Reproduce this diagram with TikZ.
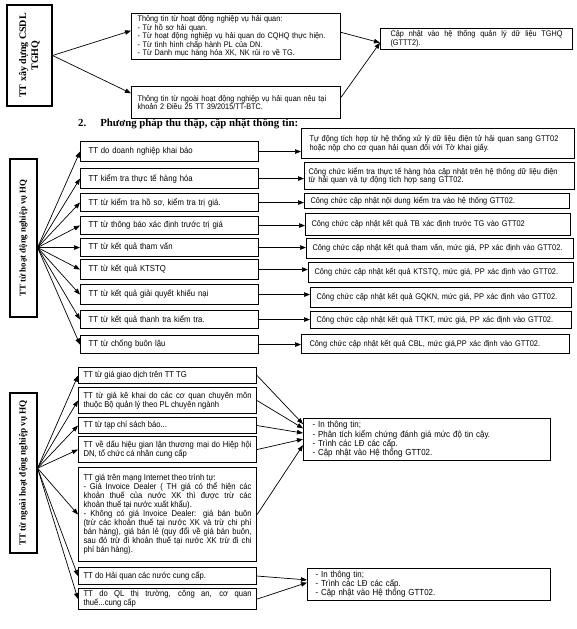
\documentclass[tikz,border=0pt]{standalone}
\usepackage{fontspec}
\setmainfont{Liberation Serif}
\setsansfont{Liberation Sans}[FakeStretch=0.9]
\usetikzlibrary{arrows.meta,calc}
\tikzset{
    every node/.style={font=\sffamily\fontsize{8.2}{8.8}\selectfont},
    infobox/.style={draw,line width=1.1pt,anchor=north west,inner xsep=6pt,inner ysep=2pt,align=left},
    jbox/.style={infobox,align=justify},
    topbox/.style={infobox,inner xsep=6pt,text width=197pt,font=\sffamily\fontsize{8.1}{8.6}\selectfont},
    midbox/.style={infobox,inner xsep=8pt,text width=162pt,font=\sffamily\fontsize{8.6}{9}\selectfont},
    extbox/.style={jbox,inner xsep=5pt,text width=168pt,font=\sffamily\fontsize{8.5}{9}\selectfont},
    stepbox/.style={infobox,inner ysep=3pt,font=\sffamily\fontsize{8.8}{8.9}\selectfont},
    sidebox/.style={draw,line width=1.1pt,rotate=90,inner sep=1pt,align=center,font=\rmfamily\bfseries\fontsize{8.8}{10}\selectfont},
    heading/.style={anchor=base west,inner sep=0pt,font=\rmfamily\bfseries\fontsize{10.8}{13}\selectfont},
    link/.style={draw,line width=0.7pt,-{Triangle[length=6pt,width=4.5pt]}}
}
\begin{document}
\begin{tikzpicture}[x=1pt,y=-1pt]
\useasboundingbox (0,0) rectangle (576,629);
% 1. xay dung CSDL
\node[sidebox,minimum width=101pt,minimum height=45pt,font=\rmfamily\bfseries\fontsize{10}{12}\selectfont] (src) at (29.5,55.5) {TT xây dựng CSDL\\TGHQ};
\node[topbox] (t1) at (131,13) {Thông tin từ hoạt động nghiệp vụ hải quan:\\- Từ hồ sơ hải quan.\\- Từ hoạt động nghiệp vụ hải quan do CQHQ thực hiện.\\- Từ tình hình chấp hành PL của DN.\\- Từ Danh mục hàng hóa XK, NK rủi ro về TG.\par\vspace{15pt}};
\node[topbox,minimum height=32pt] (t2) at (131,86) {Thông tin từ ngoài hoạt động nghiệp vụ hải quan nêu tại\\khoản 2 Điều 25 TT 39/2015/TT-BTC.\par\vspace{3pt}};
\node[topbox,align=justify,inner xsep=10pt,text width=172pt] (t3) at (380,28) {Cập nhật vào hệ thống quản lý dữ liệu TGHQ\linebreak (GTTT2).\par\vspace{27pt}};
\coordinate (hubA) at (src.south);
\draw[link] (hubA) -- ($(t1.north west)!0.375!(t1.south west)$);
\draw[link] (hubA) -- ($(t2.north west)!0.22!(t2.south west)$);
\draw[link] ($(t1.north east)!0.41!(t1.south east)$) -- ($(t3.north west)!0.68!(t3.south west)$);
\draw[link] ($(t2.north east)!0.34!(t2.south east)$) -- ($(t3.north west)!0.68!(t3.south west)$);

% 2. phuong phap thu thap
\node[heading] (title) at (78,126) {2.\hspace{14pt}Phương pháp thu thập, cập nhật thông tin:};

% TT tu hoat dong nghiep vu HQ
\node[sidebox,minimum width=158pt,minimum height=27pt] (s2) at (23.5,238) {TT từ hoạt động nghiệp vụ HQ};
\node[midbox,minimum height=20pt] (m1) at (80,141) {TT do doanh nghiệp khai báo};
\node[midbox,minimum height=20pt] (m2) at (80,168) {TT kiểm tra thực tế hàng hóa};
\node[midbox,minimum height=18pt] (m3) at (80,193) {TT từ kiểm tra hồ sơ, kiểm tra trị giá.};
\node[midbox,minimum height=18pt] (m4) at (80,216) {TT từ thông báo xác định trước trị giá};
\node[midbox,minimum height=18pt] (m5) at (80,238) {TT từ kết quả tham vấn};
\node[midbox,minimum height=20pt] (m6) at (80,259) {TT từ kết quả KTSTQ};
\node[midbox,minimum height=20pt] (m7) at (80,284) {TT từ kết quả giải quyết khiếu nại};
\node[midbox,minimum height=18pt] (m8) at (80,310) {TT từ kết quả thanh tra kiểm tra.};
\node[midbox,minimum height=18pt] (m9) at (80,335) {TT từ chống buôn lậu};

\node[infobox,inner xsep=8pt,text width=257pt,minimum height=30pt] (r1) at (301,128) {Tự động tích hợp từ hệ thống xử lý dữ liệu điện tử hải quan sang GTT02\\hoặc nộp cho cơ quan hải quan đối với Tờ khai giấy.};
\node[infobox,inner xsep=4pt,text width=262pt,minimum height=27pt] (r2) at (304,162) {Công chức kiểm tra thực tế hàng hóa cập nhật trên hệ thống dữ liệu điện\\từ hải quan và tự động tích hợp sang GTT02.};
\node[infobox,text width=253pt,minimum height=15pt] (r3) at (304,193) {Công chức cập nhật nội dung kiểm tra vào hệ thống GTT02.};
\node[infobox,text width=253pt,minimum height=22pt] (r4) at (305,213) {Công chức cập nhật kết quả TB xác định trước TG vào GTT02};
\node[infobox,text width=255pt,minimum height=20pt] (r5) at (306,238) {Công chức cập nhật kết quả tham vấn, mức giá, PP xác định vào GTT02.};
\node[infobox,text width=253pt,minimum height=20pt] (r6) at (308,262) {Công chức cập nhật kết quả KTSTQ, mức giá, PP xác định vào GTT02.};
\node[infobox,text width=249pt,minimum height=20pt] (r7) at (310,287) {Công chức cập nhật kết quả GQKN, mức giá, PP xác định vào GTT02.};
\node[infobox,text width=249pt,minimum height=17pt] (r8) at (310,311) {Công chức cập nhật kết quả TTKT, mức giá, PP xác định vào GTT02.};
\node[infobox,inner xsep=8pt,text width=252pt,minimum height=19pt] (r9) at (301,334) {Công chức cập nhật kết quả CBL, mức giá,PP xác định vào GTT02.};

\coordinate (hubB) at ($(s2.south east)!0.56!(s2.south west)$);
\foreach \i in {1,...,9}
    \draw[link] (hubB) -- (m\i.west);
\foreach \i in {1,...,9}
    \draw[link] (m\i.east) -- (m\i.east -| r\i.west);

% TT tu ngoai hoat dong nghiep vu HQ
\node[sidebox,minimum width=160pt,minimum height=27pt,font=\rmfamily\bfseries\fontsize{9.2}{10}\selectfont] (s3) at (23.5,473) {TT từ ngoài hoạt động nghiệp vụ HQ};
\node[extbox,minimum height=16pt] (n1) at (78,367) {TT từ giá giao dịch trên TT TG};
\node[extbox,minimum height=26pt] (n2) at (78,387) {TT từ giá kê khai do các cơ quan chuyên môn\linebreak thuộc Bộ quản lý theo PL chuyên ngành};
\node[extbox,minimum height=16pt] (n3) at (78,417) {TT từ tạp chí sách báo...};
\node[extbox,minimum height=26pt] (n4) at (78,436) {TT về dấu hiệu gian lận thương mại do Hiệp hội\linebreak DN, tổ chức cá nhân cung cấp};
\node[extbox,minimum height=94pt] (n5) at (78,467) {TT giá trên mạng Internet theo trình tự:\\- Giá Invoice Dealer ( TH giá có thể hiện các\linebreak khoản thuế của nước XK thì được trừ các\linebreak khoản thuế tại nước xuất khẩu).\\- Không có giá Invoice Dealer: giá bán buôn\linebreak (trừ các khoản thuế tại nước XK và trừ chi phí\linebreak bán hàng), giá bán lẻ (quy đổi về giá bán buôn,\linebreak sau đó trừ đi khoản thuế tại nước XK trừ đi chi\linebreak phí bán hàng).};
\node[extbox,minimum height=17pt] (n6) at (78,567) {TT do Hải quan các nước cung cấp.};
\node[extbox] (n7) at (78,588) {TT do QL thị trường, công an, cơ quan\linebreak thuế...cung cấp\par\vspace{6pt}};

\node[stepbox,inner xsep=9pt,text width=229pt] (pa) at (303,418) {- In thông tin;\\- Phân tích kiểm chứng đánh giá mức độ tin cậy.\\- Trình các LĐ các cấp.\\- Cập nhật vào Hệ thống GTT02.\par\vspace{9pt}};
\node[stepbox,inner xsep=8pt,text width=227pt] (pb) at (307,568) {- In thông tin;\\- Trình các LĐ các cấp.\\- Cập nhật vào Hệ thống GTT02.\par\vspace{6pt}};

\coordinate (hubC) at ($(s3.south east)!0.47!(s3.south west)$);
\foreach \i in {1,...,7}
    \draw[link] (hubC) -- (n\i.west);
\foreach \i/\f in {1/0.14,2/0.24,3/0.35,4/0.49,5/0.63}
    \draw[link] (n\i.east) -- ($(pa.north west)!\f!(pa.south west)$);
\foreach \i/\f in {6/0.36,7/0.44}
    \draw[link] (n\i.east) -- ($(pb.north west)!\f!(pb.south west)$);
\end{tikzpicture}
\end{document}
